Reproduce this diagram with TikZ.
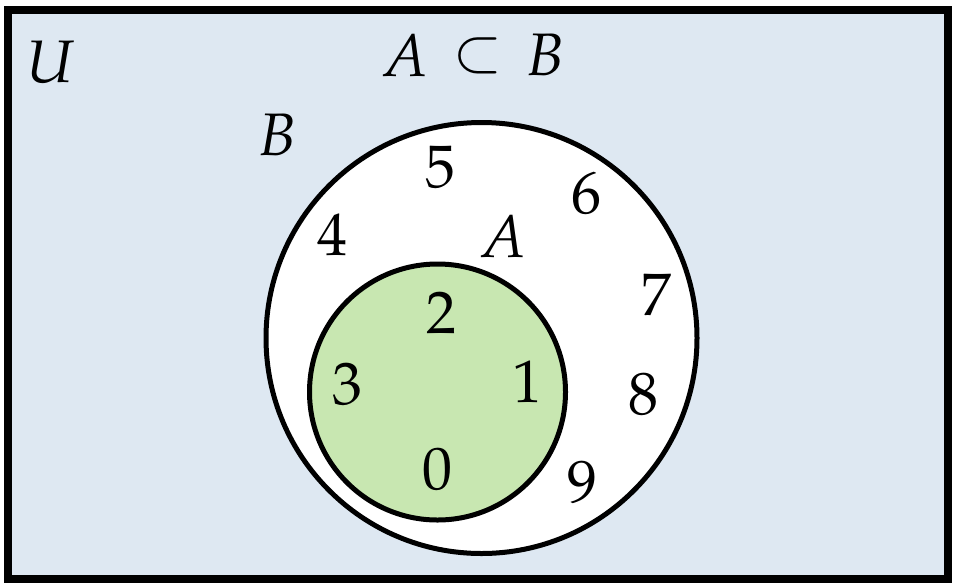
\documentclass[tikz,border=0pt]{standalone}
\usepackage{mathpazo}
\definecolor{ubg}{RGB}{222,232,242}
\definecolor{agreen}{RGB}{200,231,177}
\begin{document}
\begin{tikzpicture}[x=1pt,y=-1pt,
  lbl/.style={inner sep=0pt,font=\fontsize{60}{72}\selectfont},
  setline/.style={line width=5pt}]
\useasboundingbox (0,0) rectangle (965,587);
\draw[line width=8pt,fill=ubg] (8,10) rectangle (948,579);
\node[setline,draw,fill=white,circle,minimum size=431pt,inner sep=0pt] (B) at (481.5,338) {};
\node[setline,draw,fill=agreen,circle,minimum size=256pt,inner sep=0pt] (A) at (437.5,392) {};
\node[lbl] (U) at (51,62) {$U$};
\node[lbl] (tA) at (405,55) {$A$};
\node[lbl] (tsub) at (478,56) {$\subset$};
\node[lbl] (tB) at (545,55) {$B$};
\node[lbl] (Blab) at (277,135) {$B$};
\node[lbl] (Alab) at (503,236) {$A$};
\node[lbl] (n5) at (440,167) {$5$};
\node[lbl] (n4) at (332,235) {$4$};
\node[lbl] (n6) at (586,193) {$6$};
\node[lbl] (n7) at (656,295) {$7$};
\node[lbl] (n8) at (643,394) {$8$};
\node[lbl] (n9) at (582,482) {$9$};
\node[lbl] (n2) at (441,313) {$2$};
\node[lbl] (n3) at (347,384) {$3$};
\node[lbl] (n1) at (527,382) {$1$};
\node[lbl] (n0) at (437,469) {$0$};
\end{tikzpicture}
\end{document}
